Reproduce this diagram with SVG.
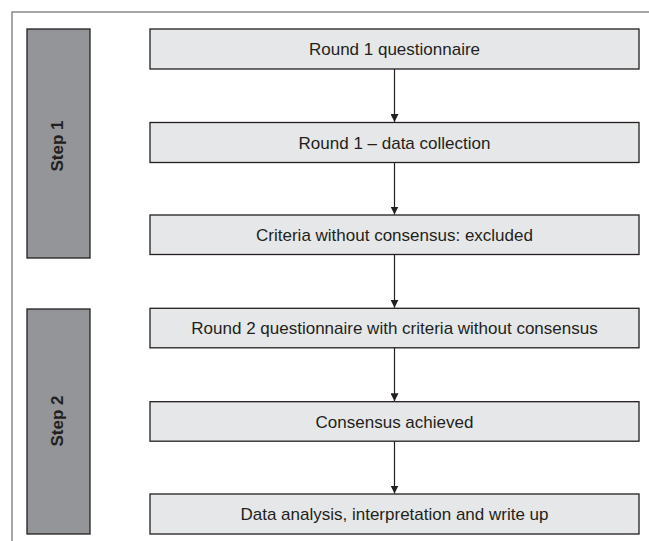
<svg xmlns="http://www.w3.org/2000/svg" width="649" height="541" viewBox="0 0 649 541">
<defs>
<style>
.frame{fill:none;stroke:#8a8a8a;stroke-width:1.5}
.step rect{fill:#939598;stroke:#231f20;stroke-width:1.3}
.step text{font-family:"Liberation Sans",Arial,sans-serif;font-weight:bold;font-size:17px;fill:#231f20;text-anchor:middle}
.node rect{fill:#e6e7e8;stroke:#231f20;stroke-width:1.3}
.node text{font-family:"Liberation Sans",Arial,sans-serif;font-size:17px;fill:#231f20;text-anchor:middle}
.conn line{stroke:#231f20;stroke-width:1.2}
</style>
<marker id="arr" viewBox="0 0 8 8" refX="8" refY="4" markerWidth="8" markerHeight="8" markerUnits="userSpaceOnUse" orient="auto">
<path d="M0,0 L8,4 L0,8 Z" fill="#231f20"/>
</marker>
</defs>
<rect width="649" height="541" fill="#ffffff"/>
<path class="frame" d="M12,541 L12,12 L649,12"/>
<g id="step1" class="step">
<rect x="27" y="29" width="63" height="229"/>
<text transform="translate(63,146) rotate(-90)">Step 1</text>
</g>
<g id="step2" class="step">
<rect x="27" y="309" width="63" height="225"/>
<text transform="translate(63,421) rotate(-90)">Step 2</text>
</g>
<g id="n1" class="node">
<rect x="150" y="29" width="489" height="40"/>
<text x="394.5" y="55">Round 1 questionnaire</text>
</g>
<g id="n2" class="node">
<rect x="150" y="122.5" width="489" height="40"/>
<text x="394.5" y="148.5">Round 1 – data collection</text>
</g>
<g id="n3" class="node">
<rect x="150" y="215" width="489" height="39.5"/>
<text x="394.5" y="241">Criteria without consensus: excluded</text>
</g>
<g id="n4" class="node">
<rect x="150" y="308.3" width="489" height="39.5"/>
<text x="394.5" y="334.3">Round 2 questionnaire with criteria without consensus</text>
</g>
<g id="n5" class="node">
<rect x="150" y="401.7" width="489" height="39.5"/>
<text x="394.5" y="427.7">Consensus achieved</text>
</g>
<g id="n6" class="node">
<rect x="150" y="494" width="489" height="40"/>
<text x="394.5" y="520">Data analysis, interpretation and write up</text>
</g>
<g id="connectors" class="conn">
<line x1="394.5" y1="69" x2="394.5" y2="122" marker-end="url(#arr)"/>
<line x1="394.5" y1="162.5" x2="394.5" y2="214.5" marker-end="url(#arr)"/>
<line x1="394.5" y1="254.5" x2="394.5" y2="307.8" marker-end="url(#arr)"/>
<line x1="394.5" y1="347.8" x2="394.5" y2="401.2" marker-end="url(#arr)"/>
<line x1="394.5" y1="441.2" x2="394.5" y2="493.5" marker-end="url(#arr)"/>
</g>
</svg>
